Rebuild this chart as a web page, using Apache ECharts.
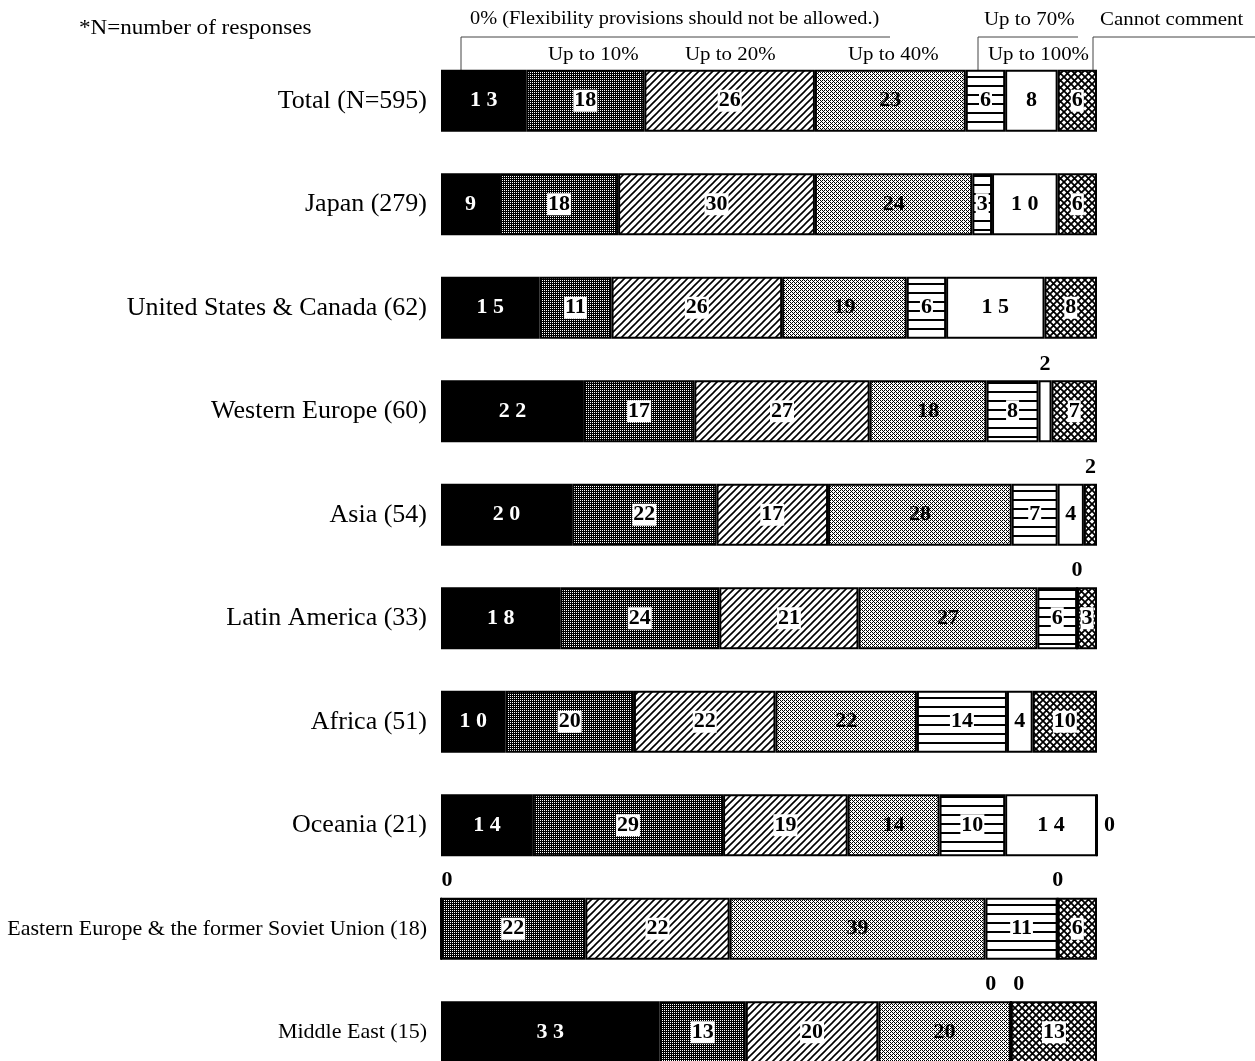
<!DOCTYPE html>
<html>
<head>
<meta charset="utf-8">
<script src="https://cdn.jsdelivr.net/npm/echarts@6/dist/echarts.min.js"></script>
<style>
  html, body { margin: 0; padding: 0; background: #fff; }
  #chart { width: 1255px; height: 1061px; }
</style>
</head>
<body>
<div id="chart"></div>
<script>
// categories (top to bottom)
const regions = ['Total (N=595)', 'Japan (279)', 'United States & Canada (62)', 'Western Europe (60)',
  'Asia (54)', 'Latin America (33)', 'Africa (51)', 'Oceania (21)',
  'Eastern Europe & the former Soviet Union (18)', 'Middle East (15)'];
const answers = ['0% (Flexibility provisions should not be allowed.)', 'Up to 10%', 'Up to 20%',
  'Up to 40%', 'Up to 70%', 'Up to 100%', 'Cannot comment'];

// percentages per answer, one value per region
const pct0 = [13, 9, 15, 22, 20, 18, 10, 14, 0, 33];
const pct10 = [18, 18, 11, 17, 22, 24, 20, 29, 22, 13];
const pct20 = [26, 30, 26, 27, 17, 21, 22, 19, 22, 20];
const pct40 = [23, 24, 19, 18, 28, 27, 22, 14, 39, 20];
const pct70 = [6, 3, 6, 8, 7, 6, 14, 10, 11, 0];
const pct100 = [8, 10, 15, 2, 4, 0, 4, 14, 0, 0];
const pctNA = [6, 6, 8, 7, 2, 3, 10, 0, 6, 13];
const allPct = [pct0, pct10, pct20, pct40, pct70, pct100, pctNA];

// fill patterns
function tile(w, h, draw) {
  const c = document.createElement('canvas');
  c.width = w; c.height = h;
  const ctx = c.getContext('2d');
  draw(ctx, w, h);
  return { image: c, repeat: 'repeat' };
}
const darkDots = tile(4, 4, (g) => {
  g.fillStyle = '#000'; g.fillRect(0, 0, 4, 4);
  g.fillStyle = '#fff';
  [[0, 0], [2, 2], [2, 0], [0, 2]].forEach(p => g.fillRect(p[0], p[1], 1, 1));
});
const lightDots = tile(4, 4, (g) => {
  g.fillStyle = '#fff'; g.fillRect(0, 0, 4, 4);
  g.fillStyle = '#000';
  [[0, 0], [2, 2], [2, 0], [0, 2], [1, 1], [3, 3]].forEach(p => g.fillRect(p[0], p[1], 1, 1));
});
const diag = tile(7, 7, (g, w, h) => {
  g.fillStyle = '#fff'; g.fillRect(0, 0, w, h);
  g.strokeStyle = '#000'; g.lineWidth = 1.6;
  g.beginPath();
  g.moveTo(-1, h + 1); g.lineTo(w + 1, -1);
  g.moveTo(-1, 1); g.lineTo(1, -1);
  g.moveTo(w - 1, h + 1); g.lineTo(w + 1, h - 1);
  g.stroke();
});
const hLines = tile(8, 9, (g, w, h) => {
  g.fillStyle = '#fff'; g.fillRect(0, 0, w, h);
  g.fillStyle = '#000'; g.fillRect(0, 4, w, 2);
});
const cross = tile(7, 7, (g, w, h) => {
  g.fillStyle = '#fff'; g.fillRect(0, 0, w, h);
  g.strokeStyle = '#000'; g.lineWidth = 1.8;
  g.beginPath();
  g.moveTo(-1, -1); g.lineTo(w + 1, h + 1);
  g.moveTo(-1, h + 1); g.lineTo(w + 1, -1);
  g.stroke();
});
const fills = ['#000', darkDots, diag, lightDots, hLines, '#fff', cross];

// labels that sit outside the bar: [seriesIndex, regionIndex, position, offset]
const outside = [
  [5, 3, 'top', [0, 0]], [6, 4, 'top', [0, 0]], [5, 5, 'top', [0, 0]],
  [6, 7, 'right', [0, 0]], [0, 8, 'top', [6, 0]], [5, 8, 'top', [0, 0]],
  [4, 9, 'top', [-20, 0]], [5, 9, 'top', [8, 0]]
];

const rowSum = regions.map((r, i) => allPct.reduce((s, a) => s + a[i], 0));
const serif = 'Liberation Serif';

const series = allPct.map((arr, si) => ({
  name: answers[si],
  type: 'bar',
  stack: 'all',
  barWidth: 62,
  itemStyle: { color: fills[si], borderColor: '#000', borderWidth: 2 },
  label: {
    show: true,
    position: 'inside',
    fontFamily: serif,
    fontWeight: 'bold',
    fontSize: 22,
    color: si === 0 ? '#fff' : '#000',
    backgroundColor: [1, 2, 4, 6].includes(si) ? '#fff' : 'transparent',
    padding: [0, 1],
    formatter: (p) => {
      const s = String(p.data.raw);
      return (si === 0 || si === 5) ? s.split('').join(' ') : s;
    }
  },
  data: arr.map((v, ri) => {
    const d = { value: v / rowSum[ri] * 100, raw: v };
    const o = outside.find(x => x[0] === si && x[1] === ri);
    if (o) {
      d.label = { position: o[2], distance: 5, offset: o[3], color: '#000', backgroundColor: 'transparent' };
    }
    return d;
  })
}));

// header labels and bracket lines
const heads = [
  [0, 470, 19, 19, 1.07], [1, 548, 55, 19, 1.1], [2, 685, 55, 19, 1.1], [3, 848, 55, 19, 1.1],
  [4, 984, 20, 19, 1.1], [5, 988, 55, 19, 1.1], [6, 1100, 20, 19, 1.1]
];
const graphic = heads.map(h => ({
  type: 'text', x: h[1], y: h[2], scaleX: h[4],
  style: { text: answers[h[0]], font: h[3] + 'px ' + serif, fill: '#000', textVerticalAlign: 'middle' }
}));
graphic.push({
  type: 'text', x: 79, y: 28, scaleX: 1.1,
  style: { text: '*N=number of responses', font: '21px ' + serif, fill: '#000', textVerticalAlign: 'middle' }
});
[[[461, 72], [461, 37], [890, 37]], [[978, 72], [978, 37], [1078, 37]], [[1093, 72], [1093, 37], [1255, 37]]]
  .forEach(pts => graphic.push({
    type: 'polyline', shape: { points: pts },
    style: { stroke: '#444', lineWidth: 1, fill: null }
  }));

const myChart = echarts.init(document.getElementById('chart'));
const option = {
  backgroundColor: '#fff',
  animation: false,
  grid: { left: 441, top: 49, width: 656, height: 1035, outerBoundsMode: 'none', containLabel: false },
  xAxis: { type: 'value', min: 0, max: 100, show: false },
  yAxis: {
    type: 'category',
    inverse: true,
    data: regions,
    axisLine: { show: false },
    axisTick: { show: false },
    axisLabel: {
      margin: 14,
      formatter: (v, i) => '{' + (i === 8 || i === 9 ? 'small' : 'big') + '|' + v + '}',
      rich: {
        big: { fontFamily: serif, fontSize: 26, color: '#000' },
        small: { fontFamily: serif, fontSize: 22, color: '#000' }
      }
    }
  },
  graphic: graphic,
  series: series
};
myChart.setOption(option);
</script>
</body>
</html>
